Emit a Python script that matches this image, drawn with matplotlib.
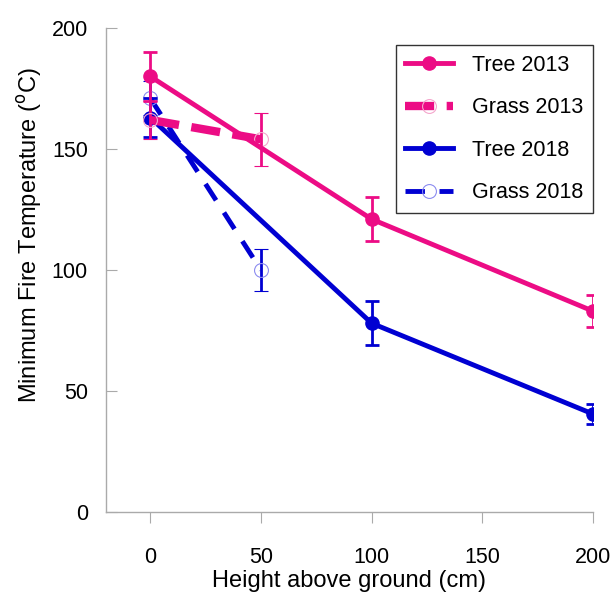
import matplotlib.pyplot as plt
from matplotlib.lines import Line2D

plt.rcParams['font.family'] = ['Liberation Sans', 'DejaVu Sans']

# --- Datos ---
x_tree = [0, 100, 200]
x_grass = [0, 50]

tree13 = [180, 121, 83]
tree13_err = [10, 9, 6.5]
grass13 = [162, 154]
grass13_err = [8, 11]

tree18 = [163, 78, 40.5]
tree18_err = [8, 9, 4]
grass18 = [171, 100]
grass18_err = [7, 8.5]

magenta = '#EC0C85'
azul = '#0000D2'

fig = plt.figure(figsize=(6.14, 5.95), dpi=100)
ax = fig.add_axes([0.1726, 0.1395, 0.7932, 0.8135])

eb = dict(elinewidth=2, capsize=5, capthick=2)

estilos = {
    'Grass 2018': dict(color=azul, lw=3.5, dashes=(4, 3), marker='o', ms=10,
                       mfc='none', mec='#8C8CF0', mew=0.8),
    'Tree 2018': dict(color=azul, lw=3.5, marker='o', ms=9.5),
    'Grass 2013': dict(color=magenta, lw=6, dashes=(3.5, 1.5), marker='o',
                       ms=10, mfc='none', mec='#F4A6CC', mew=0.8),
    'Tree 2013': dict(color=magenta, lw=3.5, marker='o', ms=9.5),
}

ax.errorbar(x_grass, grass18, yerr=grass18_err, zorder=2,
            **estilos['Grass 2018'], **eb)
ax.errorbar(x_tree, tree18, yerr=tree18_err, zorder=3,
            **estilos['Tree 2018'], **eb)
ax.errorbar(x_grass, grass13, yerr=grass13_err, zorder=4,
            **estilos['Grass 2013'], **eb)
ax.errorbar(x_tree, tree13, yerr=tree13_err, zorder=5,
            **estilos['Tree 2013'], **eb)

ax.set_xlim(-20, 200)
ax.set_ylim(0, 200)
ax.set_xticks([0, 50, 100, 150, 200])
ax.set_yticks([0, 50, 100, 150, 200])

for s in ['top', 'right']:
    ax.spines[s].set_visible(False)
for s in ['left', 'bottom']:
    ax.spines[s].set_color('#AAAAAA')
    ax.spines[s].set_linewidth(1)

ax.tick_params(axis='y', direction='in', length=8, color='#AAAAAA',
               labelsize=15.5, pad=13)
ax.tick_params(axis='x', direction='out', length=8, color='#AAAAAA',
               labelsize=15.5, pad=17)

ax.set_xlabel('Height above ground (cm)', fontsize=17, labelpad=2)
ax.set_ylabel('Minimum Fire Temperature ($^{\\mathrm{o}}$C)', fontsize=17)
ax.yaxis.set_label_coords(-0.128, 0.572)

orden = ['Tree 2013', 'Grass 2013', 'Tree 2018', 'Grass 2018']
hs = [Line2D([], [], **estilos[o]) for o in orden]
leg = ax.legend(hs, orden, loc='upper right', bbox_to_anchor=(1.0, 0.965),
                fontsize=15.5, frameon=True, fancybox=False, edgecolor='black',
                handlelength=2.2, labelspacing=1.0, borderpad=0.45,
                handletextpad=0.9, borderaxespad=0.0)
leg.get_frame().set_linewidth(1)

fig.savefig('out.png', dpi=100)
